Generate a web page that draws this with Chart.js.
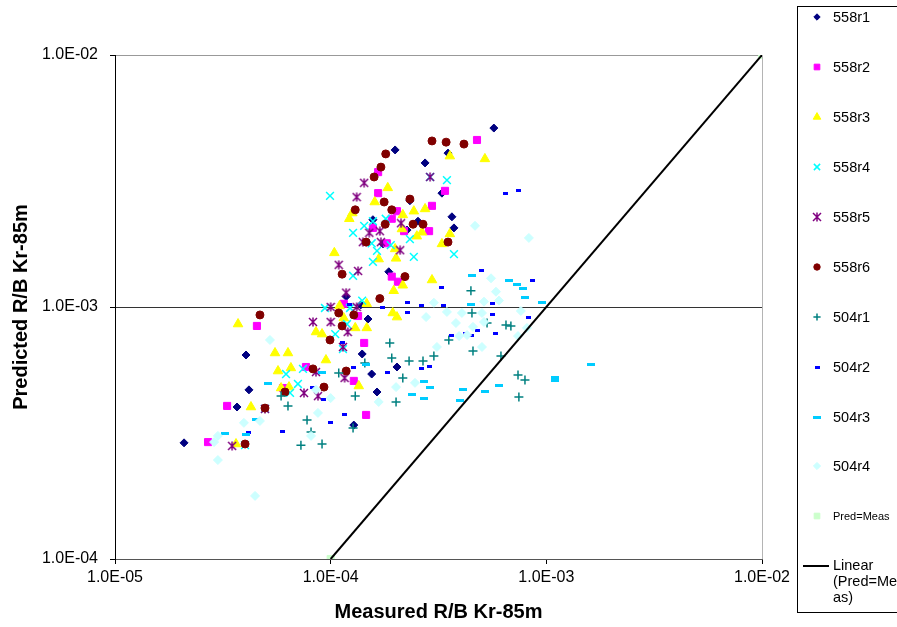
<!DOCTYPE html>
<html>
<head>
<meta charset="utf-8">
<script src="https://cdn.jsdelivr.net/npm/chart.js@4.4.1/dist/chart.umd.min.js"></script>
<style>
  html, body { margin: 0; padding: 0; background: #fff; overflow: hidden; }
  #chart { display: block; }
</style>
</head>
<body>
<canvas id="chart" width="897" height="627"></canvas>
<script>
// series names, in legend order
const seriesNames = ['558r1', '558r2', '558r3', '558r4', '558r5', '558r6', '504r1', '504r2', '504r3', '504r4', 'Pred=Meas'];

// [measured, predicted] R/B Kr-85m
const r558r1 = [[2.09e-5,2.89e-4],[4.05e-5,6.45e-4],[4.18e-5,4.69e-4],[3.68e-5,4.01e-4],[1.28e-4,3.40e-4],[1.40e-4,6.51e-4],[1.49e-4,8.96e-4],[1.55e-4,5.42e-4],[1.64e-4,4.60e-4],[2.03e-4,5.78e-4],[1.86e-4,1.38e-3],[1.18e-4,1.10e-3],[1.38e-4,1.02e-3],[1.99e-4,4.20e-3],[2.74e-4,3.73e-3],[3.50e-4,4.08e-3],[5.71e-4,5.13e-3],[2.33e-4,2.64e-3],[3.28e-4,2.83e-3],[3.65e-4,2.28e-3],[3.73e-4,2.06e-3],[1.57e-4,2.22e-3],[2.54e-4,2.19e-3],[2.26e-4,2.02e-3],[1.75e-4,1.78e-3]];
const r558r2 = [[4.55e-5,8.41e-4],[1.15e-4,1.03e-3],[1.34e-4,9.21e-4],[1.43e-4,7.20e-4],[7.68e-5,5.78e-4],[6.01e-5,4.77e-4],[1.28e-4,5.09e-4],[1.46e-4,3.73e-4],[3.31e-5,4.05e-4],[2.70e-5,2.91e-4],[1.66e-4,3.43e-3],[1.66e-4,2.83e-3],[2.03e-4,2.40e-3],[1.92e-4,2.24e-3],[1.57e-4,2.06e-3],[2.95e-4,2.52e-3],[3.39e-4,2.89e-3],[2.86e-4,2.00e-3],[2.19e-4,2.00e-3],[1.82e-4,1.79e-3],[1.92e-4,1.32e-3],[2.05e-4,1.26e-3],[4.77e-4,4.60e-3]];
const r558r3 = [[3.72e-5,8.56e-4],[5.52e-5,6.57e-4],[6.34e-5,6.57e-4],[8.55e-5,7.96e-4],[9.12e-5,7.81e-4],[9.51e-5,6.16e-4],[5.70e-5,5.57e-4],[6.54e-5,5.73e-4],[4.27e-5,4.01e-4],[5.89e-5,4.77e-4],[6.41e-5,4.81e-4],[1.35e-4,4.86e-4],[1.10e-4,1.01e-3],[1.15e-4,9.04e-4],[1.30e-4,8.26e-4],[1.47e-4,8.26e-4],[3.64e-5,2.86e-4],[3.57e-4,3.97e-3],[5.19e-4,3.87e-3],[1.84e-4,2.97e-3],[1.60e-4,2.61e-3],[2.43e-4,2.40e-3],[2.74e-4,2.45e-3],[2.16e-4,2.32e-3],[1.22e-4,2.24e-3],[1.26e-4,2.36e-3],[2.14e-4,2.04e-3],[2.65e-4,1.98e-3],[2.51e-4,1.91e-3],[3.57e-4,1.95e-3],[3.28e-4,1.78e-3],[1.04e-4,1.64e-3],[1.67e-4,1.55e-3],[2.01e-4,1.56e-3],[1.99e-4,1.70e-3],[2.95e-4,1.28e-3],[2.16e-4,1.22e-3],[1.96e-4,1.16e-3],[1.47e-4,1.03e-3],[1.94e-4,9.47e-4],[2.03e-4,9.12e-4]];
const r558r4 = [[9.41e-5,9.91e-4],[1.23e-4,9.91e-4],[1.40e-4,1.06e-3],[1.05e-4,7.81e-4],[1.19e-4,8.56e-4],[1.14e-4,6.81e-4],[6.21e-5,5.42e-4],[7.05e-5,4.95e-4],[7.44e-5,5.68e-4],[4.96e-5,3.94e-4],[4.01e-5,2.83e-4],[6.48e-5,4.56e-4],[9.93e-5,2.76e-3],[3.46e-4,3.19e-3],[2.89e-4,3.28e-3],[1.80e-4,2.24e-3],[1.43e-4,2.10e-3],[1.27e-4,1.97e-3],[1.57e-4,2.19e-3],[2.33e-4,1.86e-3],[1.55e-4,1.79e-3],[1.64e-4,1.67e-3],[1.90e-4,1.76e-3],[2.43e-4,1.58e-3],[3.73e-4,1.62e-3],[1.57e-4,1.51e-3],[1.27e-4,1.33e-3]];
const r558r5 = [[1.00e-4,1.00e-3],[8.28e-5,8.72e-4],[1.00e-4,8.72e-4],[1.20e-4,7.96e-4],[1.14e-4,6.94e-4],[8.55e-5,5.52e-4],[1.16e-4,5.23e-4],[7.52e-5,4.56e-4],[8.73e-5,4.43e-4],[3.49e-5,2.81e-4],[1.32e-4,1.00e-3],[1.43e-4,3.11e-3],[1.32e-4,2.73e-3],[2.89e-4,3.28e-3],[1.69e-4,2.00e-3],[1.51e-4,1.97e-3],[1.41e-4,1.81e-3],[1.71e-4,1.81e-3],[2.10e-4,1.68e-3],[2.12e-4,2.15e-3],[1.09e-4,1.47e-3],[1.34e-4,1.39e-3],[1.18e-4,1.14e-3],[4.96e-5,3.94e-4]];
const r558r6 = [[4.70e-5,9.30e-4],[1.09e-4,9.47e-4],[1.28e-4,9.30e-4],[1.13e-4,8.41e-4],[9.93e-5,7.40e-4],[8.28e-5,5.68e-4],[1.18e-4,5.57e-4],[9.31e-5,4.81e-4],[6.14e-5,4.60e-4],[4.96e-5,3.97e-4],[4.01e-5,2.86e-4],[2.95e-4,4.56e-3],[3.43e-4,4.51e-3],[4.15e-4,4.43e-3],[1.80e-4,4.05e-3],[1.71e-4,3.59e-3],[1.59e-4,3.28e-3],[2.33e-4,2.68e-3],[1.77e-4,2.61e-3],[1.30e-4,2.43e-3],[1.92e-4,2.43e-3],[1.79e-4,2.13e-3],[2.41e-4,2.13e-3],[2.68e-4,2.13e-3],[3.50e-4,1.81e-3],[1.46e-4,1.81e-3],[1.13e-4,1.35e-3],[2.21e-4,1.32e-3],[1.69e-4,1.08e-3]];
const r504r1 = [[1.09e-4,5.47e-4],[1.30e-4,4.43e-4],[6.34e-5,4.05e-4],[7.77e-5,3.56e-4],[8.11e-5,3.19e-4],[1.27e-4,3.31e-4],[7.28e-5,2.83e-4],[9.12e-5,2.86e-4],[5.89e-5,4.43e-4],[1.44e-4,6.00e-4],[4.47e-4,1.16e-3],[4.52e-4,9.47e-4],[5.31e-4,8.64e-4],[6.50e-4,8.49e-4],[6.85e-4,8.41e-4],[3.53e-4,7.40e-4],[3.01e-4,6.39e-4],[4.57e-4,6.69e-4],[6.16e-4,6.39e-4],[2.68e-4,6.10e-4],[2.31e-4,6.10e-4],[1.92e-4,6.28e-4],[1.88e-4,7.20e-4],[2.16e-4,5.23e-4],[2.01e-4,4.20e-4],[7.39e-4,5.37e-4],[7.96e-4,5.13e-4],[7.46e-4,4.39e-4]];
const r504r2 = [[1.28e-4,5.73e-4],[8.28e-5,4.81e-4],[9.31e-5,4.31e-4],[1.16e-4,3.73e-4],[9.93e-5,3.47e-4],[6.01e-5,3.22e-4],[4.14e-5,3.19e-4],[3.25e-4,1.20e-3],[2.28e-4,1.04e-3],[2.65e-4,1.01e-3],[3.32e-4,1.01e-3],[1.22e-4,1.02e-3],[1.73e-4,9.91e-4],[6.50e-4,2.81e-3],[7.46e-4,2.91e-3],[5.03e-4,1.39e-3],[8.67e-4,1.27e-3],[5.65e-4,1.03e-3],[2.26e-4,9.47e-4],[5.65e-4,9.30e-4],[8.30e-4,9.12e-4],[5.84e-4,7.88e-4],[4.82e-4,8.04e-4],[4.20e-4,7.88e-4],[3.65e-4,7.74e-4],[4.52e-4,7.74e-4],[2.86e-4,5.83e-4],[2.65e-4,5.68e-4],[1.84e-4,5.52e-4],[1.13e-4,7.20e-4]];
const r504r3 = [[5.12e-5,4.99e-4],[9.12e-5,5.52e-4],[1.46e-4,5.94e-4],[4.51e-5,3.59e-4],[4.05e-5,3.13e-4],[3.24e-5,3.16e-4],[4.52e-4,1.33e-3],[6.71e-4,1.27e-3],[7.31e-4,1.23e-3],[7.79e-4,1.18e-3],[7.96e-4,1.09e-3],[9.55e-4,1.04e-3],[4.47e-4,1.02e-3],[2.71e-4,5.04e-4],[2.89e-4,4.81e-4],[2.38e-4,4.51e-4],[2.71e-4,4.35e-4],[4.10e-4,4.69e-4],[5.19e-4,4.60e-4],[6.03e-4,4.90e-4],[3.97e-4,4.27e-4],[1.10e-3,5.23e-4],[1.10e-3,5.09e-4],[1.61e-3,5.89e-4]];
const r504r4 = [[5.23e-5,7.40e-4],[1.00e-4,4.35e-4],[8.73e-5,3.80e-4],[3.96e-5,3.47e-4],[4.70e-5,3.53e-4],[3.00e-5,3.08e-4],[2.88e-5,2.91e-4],[8.11e-5,3.08e-4],[3.00e-5,2.47e-4],[4.46e-5,1.78e-4],[8.55e-5,4.69e-4],[1.67e-4,4.20e-4],[4.67e-4,2.10e-3],[8.30e-4,1.88e-3],[5.54e-4,1.30e-3],[5.84e-4,1.15e-3],[5.14e-4,1.05e-3],[6.03e-4,1.06e-3],[3.01e-4,1.04e-3],[3.46e-4,9.56e-4],[4.06e-4,9.47e-4],[5.03e-4,9.47e-4],[5.14e-4,8.72e-4],[2.77e-4,9.12e-4],[3.81e-4,8.64e-4],[4.57e-4,8.34e-4],[3.94e-4,7.67e-4],[4.29e-4,7.74e-4],[7.39e-4,7.67e-4],[7.62e-4,9.64e-4],[8.13e-4,8.26e-4],[5.03e-4,6.94e-4],[3.11e-4,6.94e-4],[2.01e-4,4.81e-4],[2.46e-4,5.00e-4]];
const predMeas = [[1e-4,1e-4],[1e-2,1e-2]];

const xTickValues = [1e-5, 1e-4, 1e-3, 1e-2];
const xTickLabels = ['1.0E-05', '1.0E-04', '1.0E-03', '1.0E-02'];
const yTickValues = [1e-4, 1e-3, 1e-2];
const yTickLabels = ['1.0E-04', '1.0E-03', '1.0E-02'];

const FONT = '"Liberation Sans", Arial, sans-serif';

// little canvases for the Excel markers chart.js doesn't have
function dashMarker(w, h, color) {
    const c = document.createElement('canvas');
    c.width = w; c.height = h;
    const g = c.getContext('2d');
    g.fillStyle = color;
    g.fillRect(0, 0, w, h);
    return c;
}
function asteriskMarker(size, color) {
    const c = document.createElement('canvas');
    c.width = size; c.height = size;
    const g = c.getContext('2d');
    const m = size / 2, r = size / 2 - 1;
    g.strokeStyle = color;
    g.lineWidth = 1.5;
    g.beginPath();
    g.moveTo(m - r, m - r); g.lineTo(m + r, m + r);
    g.moveTo(m + r, m - r); g.lineTo(m - r, m + r);
    g.moveTo(m, m - r - 0.5); g.lineTo(m, m + r + 0.5);
    g.stroke();
    return c;
}

const seriesData = [r558r1, r558r2, r558r3, r558r4, r558r5, r558r6, r504r1, r504r2, r504r3, r504r4, predMeas];
const seriesStyle = [
    { color: '#000080', style: 'rectRot', radius: 4 },
    { color: '#ff00ff', style: 'rect', radius: 5 },
    { color: '#ffff00', style: 'triangle', radius: 5.5 },
    { color: '#00ffff', style: 'crossRot', radius: 5.5, line: true },
    { color: '#800080', style: asteriskMarker(10, '#800080'), radius: 5 },
    { color: '#800000', style: 'circle', radius: 4 },
    { color: '#008080', style: 'cross', radius: 4.5, line: true },
    { color: '#0000ff', style: dashMarker(5, 3, '#0000ff'), radius: 3 },
    { color: '#00ccff', style: dashMarker(8, 3, '#00ccff'), radius: 4 },
    { color: '#ccffff', style: 'rectRot', radius: 4.5 },
    { color: '#ccffcc', style: 'rect', radius: 5 }
];

const datasets = seriesData.map((pts, i) => ({
    label: seriesNames[i],
    data: pts.map(p => ({ x: p[0], y: p[1] })),
    pointStyle: seriesStyle[i].style,
    pointRadius: seriesStyle[i].radius,
    pointBackgroundColor: seriesStyle[i].color,
    pointBorderColor: seriesStyle[i].color,
    pointBorderWidth: seriesStyle[i].line ? 1.5 : 1,
    showLine: false,
    order: 20 - i
}));

// Linear trendline through Pred=Meas
datasets.push({
    type: 'line',
    label: 'Linear (Pred=Meas)',
    data: predMeas.map(p => ({ x: p[0], y: p[1] })),
    borderColor: '#000',
    borderWidth: 2,
    pointRadius: 0,
    fill: false,
    order: 0
});

// Excel style legend box on the right
const legendBox = {
    id: 'legendBox',
    afterDraw(chart) {
        const ctx = chart.ctx;
        ctx.save();
        ctx.strokeStyle = '#000';
        ctx.lineWidth = 1;
        ctx.strokeRect(797.5, 6.5, 140, 606);
        const rows = [17, 67, 117, 167, 217, 267, 317, 367, 417, 466, 516];
        ctx.textBaseline = 'middle';
        ctx.textAlign = 'left';
        rows.forEach((y, i) => {
            const s = seriesStyle[i];
            ctx.fillStyle = s.color;
            ctx.strokeStyle = s.color;
            ctx.lineWidth = s.line ? 1.5 : 1;
            Chart.helpers.drawPoint(ctx, { pointStyle: s.style, radius: s.radius * 0.8, rotation: 0, borderWidth: 1 }, 817, y);
            ctx.fillStyle = '#000';
            ctx.font = (i === 10 ? '11px ' : '14.5px ') + FONT;
            ctx.fillText(seriesNames[i], 833, y + 1);
        });
        ctx.strokeStyle = '#000';
        ctx.lineWidth = 2;
        ctx.beginPath();
        ctx.moveTo(803, 566);
        ctx.lineTo(829, 566);
        ctx.stroke();
        ctx.fillStyle = '#000';
        ctx.font = '14.5px ' + FONT;
        ctx.fillText('Linear', 833, 566);
        ctx.fillText('(Pred=Me', 833, 582);
        ctx.fillText('as)', 833, 598);
        ctx.restore();
    }
};

new Chart(document.getElementById('chart'), {
    type: 'scatter',
    data: { datasets },
    options: {
        responsive: false,
        animation: false,
        devicePixelRatio: 1,
        layout: { padding: { top: 55, right: 135, left: 0, bottom: 0 } },
        plugins: { legend: { display: false }, tooltip: { enabled: false } },
        scales: {
            x: {
                type: 'logarithmic',
                min: 1e-5,
                max: 1e-2,
                afterBuildTicks: s => { s.ticks = xTickValues.map(v => ({ value: v })); },
                afterFit: s => { s.height = 68; },
                ticks: {
                    callback: (v, i) => xTickLabels[i],
                    color: '#000',
                    font: { family: FONT, size: 16 },
                    padding: 4,
                    maxRotation: 0
                },
                grid: {
                    color: c => (c.tick && c.tick.value === 1e-2) ? '#b4b4b4' : 'rgba(0,0,0,0)',
                    tickColor: '#000',
                    tickLength: 5
                },
                border: { color: '#555', width: 1 },
                title: {
                    display: true,
                    text: 'Measured R/B Kr-85m',
                    color: '#000',
                    font: { family: FONT, size: 20, weight: 'bold' },
                    padding: { top: 0, bottom: 3 }
                }
            },
            y: {
                type: 'logarithmic',
                min: 1e-4,
                max: 1e-2,
                afterBuildTicks: s => { s.ticks = yTickValues.map(v => ({ value: v })); },
                afterFit: s => { s.width = 115; },
                ticks: {
                    callback: (v, i) => yTickLabels[i],
                    color: '#000',
                    font: { family: FONT, size: 16 },
                    padding: 12
                },
                grid: {
                    color: c => {
                        if (!c.tick) return 'rgba(0,0,0,0)';
                        if (c.tick.value === 1e-3) return '#333';
                        if (c.tick.value === 1e-2) return '#999';
                        return 'rgba(0,0,0,0)';
                    },
                    tickColor: '#000',
                    tickLength: 5
                },
                border: { color: '#000', width: 1 },
                title: {
                    display: true,
                    text: 'Predicted R/B Kr-85m',
                    color: '#000',
                    font: { family: FONT, size: 20, weight: 'bold' },
                    padding: { top: 9, bottom: 0 }
                }
            }
        }
    },
    plugins: [legendBox]
});
</script>
</body>
</html>
